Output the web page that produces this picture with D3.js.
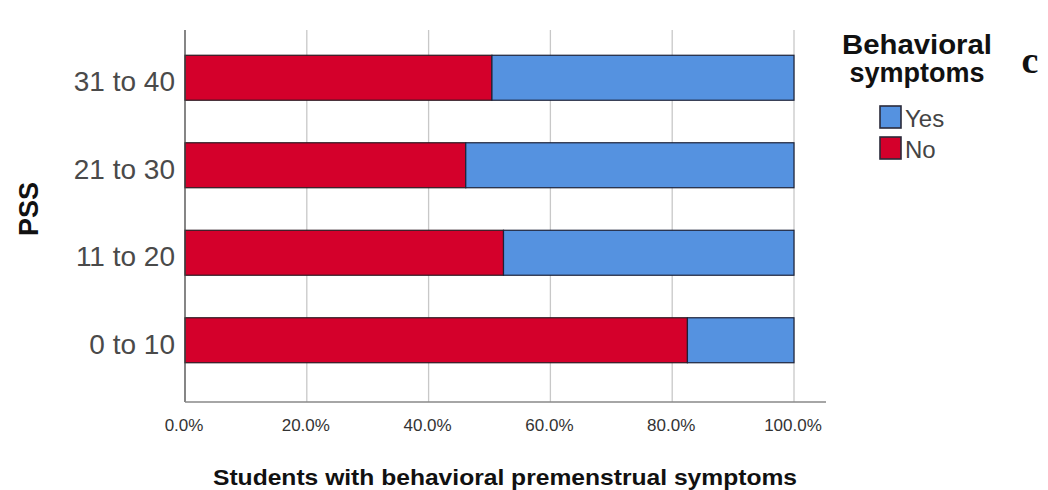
<!DOCTYPE html>
<html><head><meta charset="utf-8">
<script src="https://cdn.jsdelivr.net/npm/d3@7"></script>
<style>body{margin:0;background:#fff}svg{display:block}</style>
</head><body>
<svg id="c" width="1048" height="490"></svg>
<script>
const categories = ["31 to 40", "21 to 30", "11 to 20", "0 to 10"];
const noValues = [50.4, 46.1, 52.3, 82.5];
const yesValues = [49.6, 53.9, 47.7, 17.5];
const xTicks = [0, 20, 40, 60, 80, 100];
const seriesNames = ["Yes", "No"];
const colors = {Yes: "#5592e0", No: "#d4002b"};

const svg = d3.select("#c");
const x = d3.scaleLinear().domain([0, 100]).range([185, 794]);
const y = d3.scaleBand().domain(categories).range([34, 384]).paddingInner(0.486).paddingOuter(0.243);
const plotTop = 30, plotBottom = 402;
const sans = "Liberation Sans, Arial, sans-serif";

// gridlines
svg.append("g").selectAll("line").data(xTicks.filter(d => d > 0)).join("line")
  .attr("x1", d => x(d)).attr("x2", d => x(d)).attr("y1", plotTop).attr("y2", plotBottom)
  .attr("stroke", "#c8c8c8").attr("stroke-width", 1.3);

// bars
const rows = categories.map((c, i) => ({c, no: noValues[i], yes: yesValues[i]}));
const g = svg.append("g");
g.selectAll("rect.no").data(rows).join("rect").attr("class", "no")
  .attr("x", x(0)).attr("y", d => y(d.c)).attr("width", d => x(d.no) - x(0)).attr("height", y.bandwidth())
  .attr("fill", colors.No).attr("stroke", "#2a1a22").attr("stroke-width", 1.2);
g.selectAll("rect.yes").data(rows).join("rect").attr("class", "yes")
  .attr("x", d => x(d.no)).attr("y", d => y(d.c)).attr("width", d => x(d.no + d.yes) - x(d.no)).attr("height", y.bandwidth())
  .attr("fill", colors.Yes).attr("stroke", "#1c2238").attr("stroke-width", 1.2);

// axes lines
svg.append("line").attr("x1", x(0)).attr("x2", x(0)).attr("y1", plotTop).attr("y2", plotBottom).attr("stroke", "#444").attr("stroke-width", 1.3);
svg.append("line").attr("x1", x(0)).attr("x2", 826).attr("y1", plotBottom).attr("y2", plotBottom).attr("stroke", "#888").attr("stroke-width", 1.3);

// x tick labels
svg.append("g").selectAll("text").data(xTicks).join("text")
  .attr("x", d => x(d) - 1).attr("y", 431).attr("text-anchor", "middle")
  .attr("font-family", sans).attr("font-size", 17).attr("fill", "#333")
  .text(d => d.toFixed(1) + "%");

// y tick labels
svg.append("g").selectAll("text").data(categories).join("text")
  .attr("x", 175).attr("y", d => y(d) + y.bandwidth() / 2).attr("dy", "0.48em").attr("text-anchor", "end")
  .attr("font-family", sans).attr("font-size", 28).attr("fill", "#4a4a4a")
  .text(d => d);

// axis titles
svg.append("text").attr("x", 213).attr("y", 485)
  .attr("font-family", sans).attr("font-weight", "bold")
  .attr("font-size", 22).attr("textLength", 584).attr("lengthAdjust", "spacingAndGlyphs")
  .attr("fill", "#111").text("Students with behavioral premenstrual symptoms");
svg.append("text").attr("transform", "translate(38,209) rotate(-90)").attr("text-anchor", "middle")
  .attr("font-family", sans).attr("font-weight", "bold")
  .attr("font-size", 27).attr("fill", "#111").text("PSS");

// legend
const lg = svg.append("g");
lg.append("text").attr("x", 917).attr("y", 54).attr("text-anchor", "middle")
  .attr("font-family", sans).attr("font-weight", "bold").attr("font-size", 27)
  .attr("textLength", 150).attr("lengthAdjust", "spacingAndGlyphs").attr("fill", "#111")
  .text("Behavioral");
lg.append("text").attr("x", 917).attr("y", 82).attr("text-anchor", "middle")
  .attr("font-family", sans).attr("font-weight", "bold").attr("font-size", 27).attr("fill", "#111")
  .text("symptoms");
seriesNames.forEach((s, i) => {
  lg.append("rect").attr("x", 880).attr("y", 106 + i * 31).attr("width", 21).attr("height", 22)
    .attr("fill", colors[s]).attr("stroke", "#2a2a3a").attr("stroke-width", 1.6);
  lg.append("text").attr("x", 905).attr("y", 127 + i * 31)
    .attr("font-family", sans).attr("font-size", 24).attr("fill", "#444").text(s);
});
svg.append("text").attr("x", 1030).attr("y", 73).attr("text-anchor", "middle")
  .attr("font-family", "Liberation Serif, Times New Roman, serif").attr("font-weight", "bold").attr("font-size", 38).attr("fill", "#111").text("c");
</script>
</body></html>
